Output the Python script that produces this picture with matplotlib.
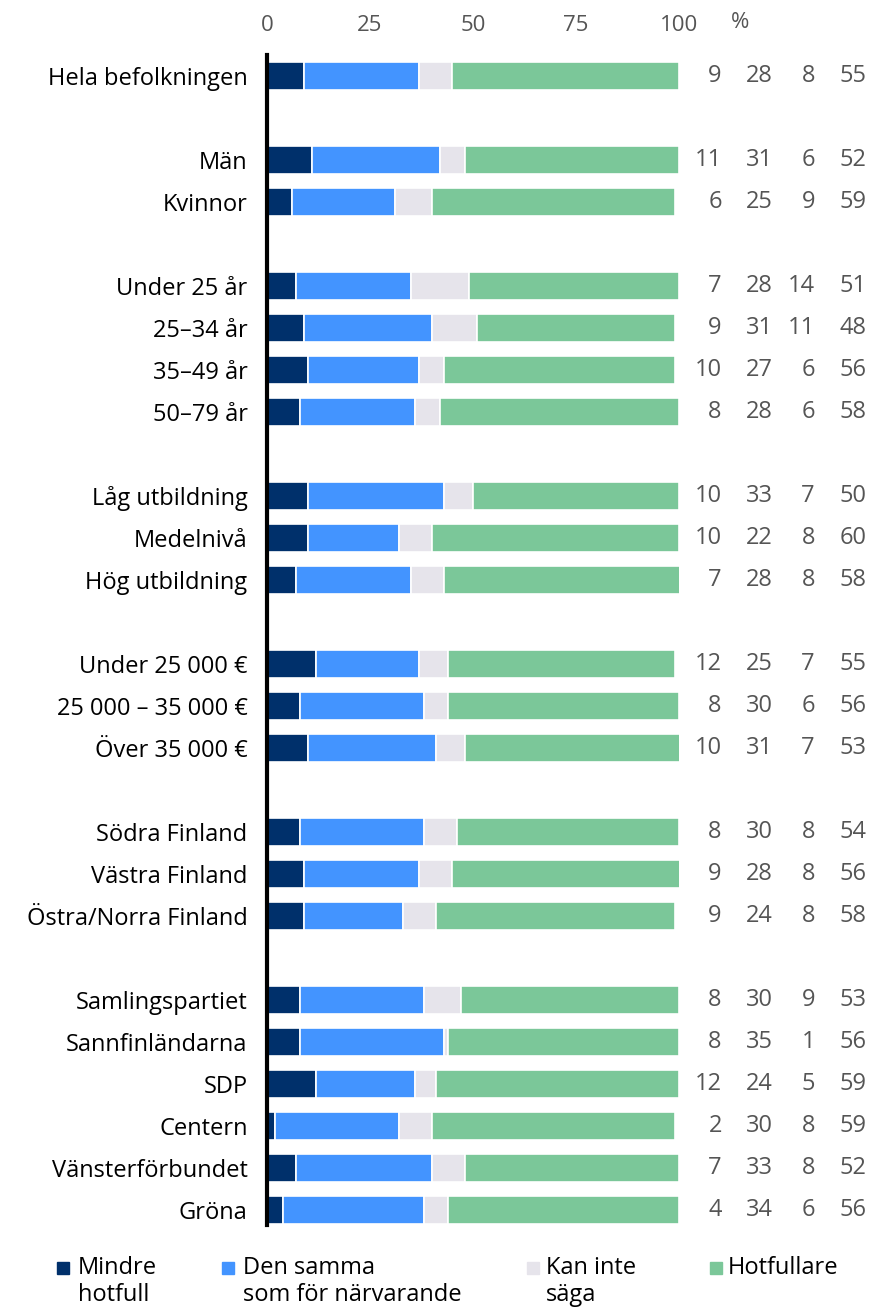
import matplotlib
matplotlib.use("Agg")
import matplotlib.pyplot as plt
from matplotlib.patches import Rectangle
from matplotlib.transforms import blended_transform_factory

plt.rcParams['font.family'] = ['Open Sans', 'DejaVu Sans']

categories = ["Hela befolkningen", None, "Män", "Kvinnor", None,
              "Under 25 år", "25–34 år", "35–49 år", "50–79 år", None,
              "Låg utbildning", "Medelnivå", "Hög utbildning", None,
              "Under 25 000 €", "25 000 – 35 000 €", "Över 35 000 €", None,
              "Södra Finland", "Västra Finland", "Östra/Norra Finland", None,
              "Samlingspartiet", "Sannfinländarna", "SDP", "Centern",
              "Vänsterförbundet", "Gröna"]

mindre = [9, None, 11, 6, None, 7, 9, 10, 8, None, 10, 10, 7, None,
          12, 8, 10, None, 8, 9, 9, None, 8, 8, 12, 2, 7, 4]
samma = [28, None, 31, 25, None, 28, 31, 27, 28, None, 33, 22, 28, None,
         25, 30, 31, None, 30, 28, 24, None, 30, 35, 24, 30, 33, 34]
kan_inte = [8, None, 6, 9, None, 14, 11, 6, 6, None, 7, 8, 8, None,
            7, 6, 7, None, 8, 8, 8, None, 9, 1, 5, 8, 8, 6]
hotfullare = [55, None, 52, 59, None, 51, 48, 56, 58, None, 50, 60, 58, None,
              55, 56, 53, None, 54, 56, 58, None, 53, 56, 59, 59, 52, 56]

series_names = ["Mindre\nhotfull", "Den samma\nsom för närvarande", "Kan inte\nsäga", "Hotfullare"]
series = [mindre, samma, kan_inte, hotfullare]
colors = ["#00306B", "#4394FF", "#E6E4EB", "#7BC799"]
ticks = [0, 25, 50, 75, 100]

W, H = 874, 1314
fig = plt.figure(figsize=(W / 100, H / 100), dpi=100)
ax = fig.add_axes([267 / W, (H - 1225) / H, 412 / W, (1225 - 55) / H])

rows = [i for i, c in enumerate(categories) if c is not None]
for idx in rows:
    left = 0
    for s, col in zip(series, colors):
        v = s[idx]
        ax.barh(idx, v, left=left, height=0.67, color=col,
                edgecolor="white", linewidth=1.2)
        left += v

ax.set_xlim(0, 100)
ax.set_ylim(27.36, -0.5)
ax.set_yticks(rows)
ax.set_yticklabels([categories[i] for i in rows], fontsize=17, color="black")
ax.tick_params(axis="y", length=0, pad=14)
ax.xaxis.tick_top()
ax.set_xticks(ticks)
ax.set_xticklabels([str(t) for t in ticks], fontsize=16, color="#555555")
ax.tick_params(axis="x", length=0, pad=14)
for sp in ["top", "right", "bottom"]:
    ax.spines[sp].set_visible(False)
ax.spines["left"].set_linewidth(3)
ax.spines["left"].set_color("black")
ax.spines["left"].set_zorder(5)

trans = blended_transform_factory(ax.transData, fig.transFigure)
ax.text(114.8, (H - 22) / H, "%", transform=trans, fontsize=16, color="#555555",
        ha="center", va="center", clip_on=False)

col_x = [110.4, 122.8, 133.0, 145.6]
for idx in rows:
    for s, cx in zip(series, col_x):
        ax.text(cx, idx, str(s[idx]), ha="right", va="center", fontsize=17,
                color="#555555", clip_on=False)

# legend
leg_sq_x = [57, 222, 527, 710]
leg_tx_x = [78, 243, 546, 728]
for name, col, sx, tx in zip(series_names, colors, leg_sq_x, leg_tx_x):
    fig.patches.append(Rectangle((sx / W, (H - 1274) / H), 12 / W, 12 / H,
                                 transform=fig.transFigure, color=col))
    fig.text(tx / W, (H - 1256) / H, name, fontsize=17, color="black",
             ha="left", va="top", linespacing=1.15)

fig.savefig("out.png", dpi=100)
